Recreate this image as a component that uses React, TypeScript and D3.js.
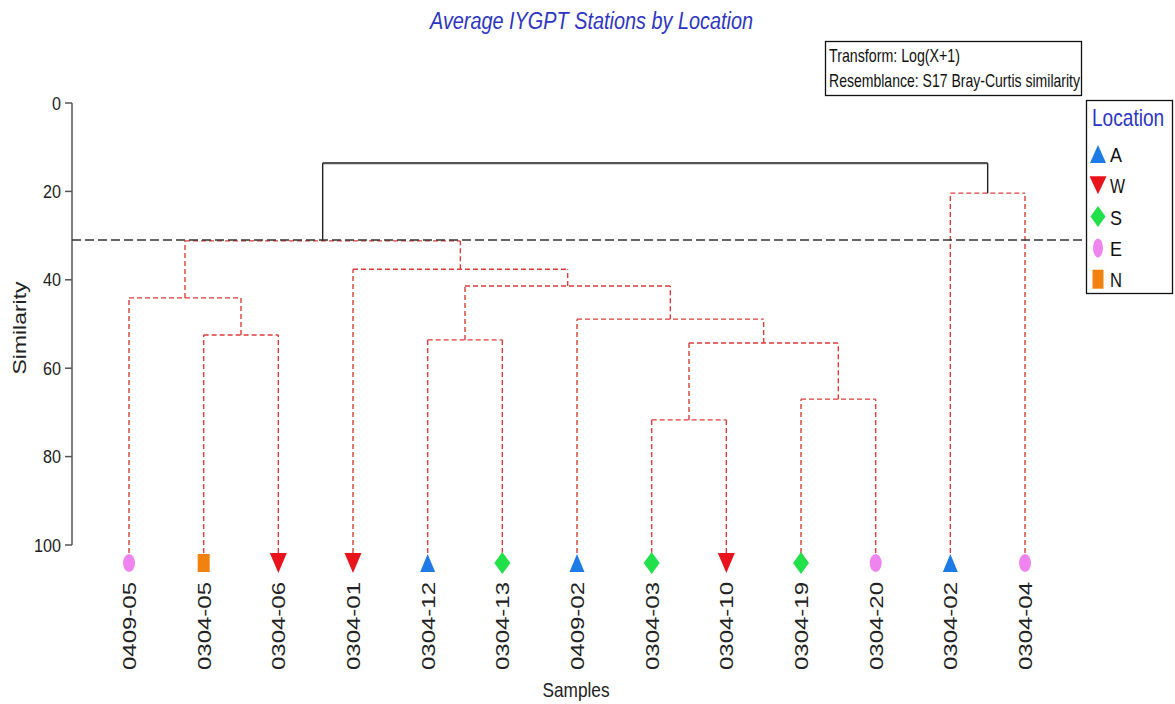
import React from "react";
import * as d3 from "d3";

// ---- Data -----------------------------------------------------------------
const samples = [
  "0409-05", "0304-05", "0304-06", "0304-01", "0304-12", "0304-13", "0409-02",
  "0304-03", "0304-10", "0304-19", "0304-20", "0304-02", "0304-04",
];
const locations = ["E", "N", "W", "W", "A", "S", "A", "S", "W", "S", "E", "A", "E"];

// merges: [left, right, similarity, significant(SIMPROF black)]; "M<i>" refers to merge i
const merges: [string, string, number, boolean][] = [
  ["0304-05", "0304-06", 52.5, false], // M0
  ["0409-05", "M0", 44.1, false], // M1
  ["0304-12", "0304-13", 53.6, false], // M2
  ["0304-03", "0304-10", 71.7, false], // M3
  ["0304-19", "0304-20", 67.0, false], // M4
  ["M3", "M4", 54.3, false], // M5
  ["0409-02", "M5", 48.9, false], // M6
  ["M2", "M6", 41.4, false], // M7
  ["0304-01", "M7", 37.6, false], // M8
  ["M1", "M8", 31.2, false], // M9
  ["0304-02", "0304-04", 20.4, false], // M10
  ["M9", "M10", 13.6, true], // M11
];
const cutLevel = 31.0;
const yTicks = [0, 20, 40, 60, 80, 100];
const legendKeys = ["A", "W", "S", "E", "N"];
const legendColors = ["#1e7be6", "#e8131b", "#22e04a", "#ef84ee", "#f2820f"];
const legendShapes = ["triUp", "triDown", "diamond", "ellipse", "square"];
const title = "Average IYGPT Stations by Location";
const infoLines = ["Transform: Log(X+1)", "Resemblance: S17 Bray-Curtis similarity"];

// ---- Helpers --------------------------------------------------------------
type TNode = { name: string; sim: number; sig: boolean; children?: TNode[] };

function buildNode(ref: string): TNode {
  if (ref.startsWith("M")) {
    const m = merges[+ref.slice(1)];
    return { name: ref, sim: m[2], sig: m[3], children: [buildNode(m[0]), buildNode(m[1])] };
  }
  return { name: ref, sim: 100, sig: false };
}

function shapePath(shape: string, w: number, h: number): string {
  const a = w / 2, b = h / 2;
  switch (shape) {
    case "triUp":
      return `M0,${-b}L${a},${b}L${-a},${b}Z`;
    case "triDown":
      return `M${-a},${-b}L${a},${-b}L0,${b}Z`;
    case "diamond":
      return `M0,${-b}L${a},0L0,${b}L${-a},0Z`;
    case "square":
      return `M${-a},${-b}L${a},${-b}L${a},${b}L${-a},${b}Z`;
    default:
      return `M${-a},0A${a},${b} 0 1,0 ${a},0A${a},${b} 0 1,0 ${-a},0Z`;
  }
}

const markerSize: Record<string, [number, number]> = {
  triUp: [15, 18],
  triDown: [17, 20],
  diamond: [16, 22],
  ellipse: [12, 18],
  square: [12, 18],
};
const legendMarkerSize: Record<string, [number, number]> = {
  triUp: [16, 18],
  triDown: [17, 18],
  diamond: [15, 21],
  ellipse: [10, 19],
  square: [11, 19],
};

const FONT = "'Liberation Sans', Arial, sans-serif";
const RED = "#e03a3a";
const BLUE_TXT = "#2d35c2";

export default function App() {
  const x = d3.scalePoint<string>().domain(samples).range([129, 1025]);
  const y = d3.scaleLinear().domain([0, 100]).range([103, 545]);
  const color = d3.scaleOrdinal<string, string>().domain(legendKeys).range(legendColors);
  const shape = d3.scaleOrdinal<string, string>().domain(legendKeys).range(legendShapes);

  const root = d3.hierarchy<TNode>(buildNode("M" + (merges.length - 1)));
  const px = new Map<d3.HierarchyNode<TNode>, number>();
  root.eachAfter((n) => {
    if (!n.children) px.set(n, x(n.data.name) as number);
    else px.set(n, d3.mean(n.children, (c) => px.get(c)!) as number);
  });

  const leafTop = 553;
  const segs: { x1: number; y1: number; x2: number; y2: number; sig: boolean }[] = [];
  root.each((n) => {
    if (!n.children) return;
    const yy = y(n.data.sim);
    const xs = n.children.map((c) => px.get(c)!);
    segs.push({ x1: d3.min(xs)!, y1: yy, x2: d3.max(xs)!, y2: yy, sig: n.data.sig });
    n.children.forEach((c) => {
      const cy = c.children ? y(c.data.sim) : leafTop;
      segs.push({ x1: px.get(c)!, y1: cy, x2: px.get(c)!, y2: yy, sig: n.data.sig });
    });
  });

  const markerY = 563;

  return (
    <svg
      width={1175}
      height={704}
      style={{ position: "absolute", left: 0, top: 0, background: "#fff" }}
      fontFamily={FONT}
    >
      {/* Title */}
      <text
        x={430}
        y={29}
        fontSize={23}
        fontStyle="italic"
        fill={BLUE_TXT}
        textLength={323}
        lengthAdjust="spacingAndGlyphs"
      >
        {title}
      </text>

      {/* Info box */}
      <rect x={825.5} y={41.5} width={256} height={54} fill="none" stroke="#111" strokeWidth={1.3} />
      <text x={829} y={62} fontSize={19} fill="#111" textLength={131} lengthAdjust="spacingAndGlyphs">
        {infoLines[0]}
      </text>
      <text x={829} y={87} fontSize={19} fill="#111" textLength={251} lengthAdjust="spacingAndGlyphs">
        {infoLines[1]}
      </text>

      {/* Legend */}
      <rect x={1086.5} y={100.5} width={86} height={193} fill="none" stroke="#111" strokeWidth={1.3} />
      <text transform="translate(1092,126) scale(0.83,1)" fontSize={23} fill={BLUE_TXT}>
        Location
      </text>
      {legendKeys.map((k, i) => {
        const cy = 154 + i * 31.3;
        const [w, h] = legendMarkerSize[shape(k)];
        return (
          <g key={k}>
            <path d={shapePath(shape(k), w, h)} transform={`translate(1098,${cy})`} fill={color(k)} />
            <text
              x={1110}
              y={cy + 8}
              fontSize={21}
              fill="#111"
              textLength={k === "W" ? 15 : 12}
              lengthAdjust="spacingAndGlyphs"
            >
              {k}
            </text>
          </g>
        );
      })}

      {/* Y axis */}
      <line x1={72} x2={72} y1={y(0)} y2={y(100)} stroke="#555" strokeWidth={1.5} />
      {yTicks.map((t) => (
        <g key={t}>
          <line x1={65} x2={72} y1={y(t)} y2={y(t)} stroke="#555" strokeWidth={1.5} />
          <text
            x={61}
            y={y(t) + 6.5}
            fontSize={18.5}
            textAnchor="end"
            fill="#222"
            textLength={String(t).length * 9}
            lengthAdjust="spacingAndGlyphs"
          >
            {t}
          </text>
        </g>
      ))}
      <text
        transform={`translate(26,328) rotate(-90)`}
        fontSize={19}
        textAnchor="middle"
        fill="#222"
        textLength={93}
        lengthAdjust="spacingAndGlyphs"
      >
        Similarity
      </text>

      {/* Dendrogram */}
      {segs
        .filter((s) => !s.sig)
        .map((s, i) => (
          <line
            key={"r" + i}
            x1={s.x1}
            y1={s.y1}
            x2={s.x2}
            y2={s.y2}
            stroke={RED}
            strokeWidth={1.4}
            strokeDasharray="5,3"
          />
        ))}
      {segs
        .filter((s) => s.sig)
        .map((s, i) => (
          <line
            key={"b" + i}
            x1={s.x1}
            y1={s.y1}
            x2={s.x2}
            y2={s.y2}
            stroke={s.y1 === s.y2 ? "#555" : "#222"}
            strokeWidth={s.y1 === s.y2 ? 2.2 : 1.4}
          />
        ))}

      {/* Cut line */}
      <line
        x1={72}
        x2={1082}
        y1={y(cutLevel)}
        y2={y(cutLevel)}
        stroke="#333"
        strokeWidth={1.6}
        strokeDasharray="9,4"
      />

      {/* Leaf markers and labels */}
      {samples.map((s, i) => {
        const k = locations[i];
        const sh = shape(k);
        const [w, h] = markerSize[sh];
        return (
          <g key={s}>
            <path d={shapePath(sh, w, h)} transform={`translate(${x(s)},${markerY})`} fill={color(k)} />
            <text
              transform={`translate(${(x(s) as number) + 0.5},582) rotate(-90)`}
              fontSize={18.5}
              textAnchor="end"
              dominantBaseline="central"
              fill="#222"
              textLength={88}
              lengthAdjust="spacingAndGlyphs"
            >
              {s}
            </text>
          </g>
        );
      })}

      <text x={576} y={697} fontSize={21} textAnchor="middle" fill="#222" textLength={67} lengthAdjust="spacingAndGlyphs">
        Samples
      </text>
    </svg>
  );
}
